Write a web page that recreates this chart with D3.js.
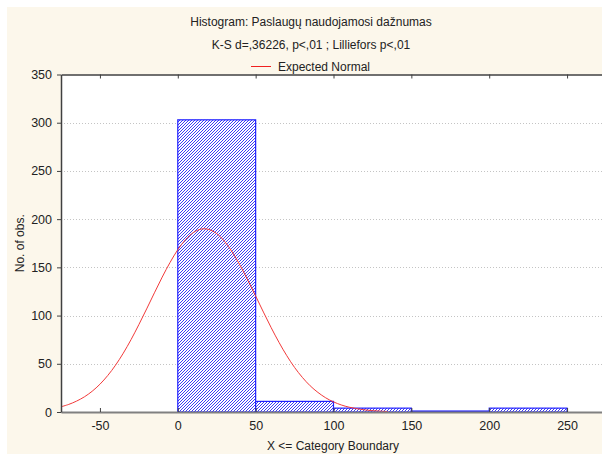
<!DOCTYPE html>
<html><head><meta charset="utf-8">
<script src="https://cdn.jsdelivr.net/npm/d3@7"></script>
<style>html,body{margin:0;padding:0;background:#fff;}svg{display:block;font-family:"Liberation Sans",Arial,sans-serif;}</style>
</head><body>
<svg id="c" width="602" height="454"></svg>
<script>
// ---- data ----
const binStarts = [0, 50, 100, 150, 200];
const binEnds   = [50, 100, 150, 200, 250];
const counts    = [303, 11, 4, 1, 4];
const normalX = [-75,-70,-65,-60,-55,-50,-45,-40,-35,-30,-25,-20,-15,-10,-5,0,5,10,15,20,25,30,35,40,45,50,55,60,65,70,75,80,85,90,95,100,105,110,115,120,125,130,135];
const normalY = [5.4,7.9,11.3,15.7,21.5,28.8,37.8,48.5,61.0,75.1,90.6,106.9,123.6,139.9,155.0,168.3,178.8,186.1,189.7,189.3,185.0,177.0,165.8,152.1,136.7,120.3,103.6,87.4,72.2,58.4,46.2,35.9,27.2,20.3,14.7,10.5,7.3,5.0,3.4,2.2,1.4,0.9,0.5];
const xTicks = [-50, 0, 50, 100, 150, 200, 250];
const yTicks = [0, 50, 100, 150, 200, 250, 300, 350];
const titleLines = ["Histogram: Paslaugų naudojamosi dažnumas", "K-S d=,36226, p<,01 ; Lilliefors p<,01"];
const legendLabel = "Expected Normal";
const xLabel = "X <= Category Boundary";
const yLabel = "No. of obs.";

// ---- layout ----
const svg = d3.select("#c");
const L = 61, T = 74.5, R = 606, B = 412;
const x = d3.scaleLinear().domain([-75, 275]).range([L, R]);
const y = d3.scaleLinear().domain([0, 350]).range([B, T]);
const fmt = d => String(d);

svg.append("rect").attr("x", 7).attr("y", 7).attr("width", 602).attr("height", 454).attr("fill", "#fcf7eb");

const defs = svg.append("defs");
const pat = defs.append("pattern").attr("id", "hatch").attr("patternUnits", "userSpaceOnUse")
  .attr("width", 3).attr("height", 3);
pat.append("rect").attr("width", 3).attr("height", 3).attr("fill", "#ffffff");
[[0, 2], [1, 1], [2, 0]].forEach(([px, py]) =>
  pat.append("rect").attr("x", px).attr("y", py).attr("width", 1).attr("height", 1)
    .attr("fill", "#3c3cf6").attr("shape-rendering", "crispEdges"));
defs.append("clipPath").attr("id", "clip").append("rect").attr("x", L).attr("y", T).attr("width", R - L).attr("height", B - T);

svg.append("rect").attr("x", L).attr("y", T).attr("width", R - L).attr("height", B - T).attr("fill", "#fff");

// gridlines
svg.append("g").selectAll("line").data(yTicks.filter(d => d > 0 && d < 350)).join("line")
  .attr("x1", L).attr("x2", R).attr("y1", d => Math.round(y(d)) + 0.5).attr("y2", d => Math.round(y(d)) + 0.5)
  .attr("stroke", "#c4c4c4").attr("stroke-width", 1).attr("stroke-dasharray", "1,2");

// bars
const bars = counts.map((c, i) => ({ x0: binStarts[i], x1: binEnds[i], c }));
svg.append("g").selectAll("rect").data(bars).join("rect")
  .attr("x", d => x(d.x0)).attr("y", d => y(d.c))
  .attr("width", d => x(d.x1) - x(d.x0)).attr("height", d => B - y(d.c))
  .attr("fill", "url(#hatch)").attr("stroke", "#2020ff").attr("stroke-width", 1.2);

// normal curve
const line = d3.line().x(d => x(d)).y((d, i) => y(normalY[i])).curve(d3.curveCatmullRom);
svg.append("path").attr("d", line(normalX)).attr("fill", "none").attr("stroke", "#f23a3a")
  .attr("stroke-width", 1).attr("clip-path", "url(#clip)");

// axes
const axisG = svg.append("g");
axisG.append("g").attr("transform", `translate(0,${B})`)
  .call(d3.axisBottom(x).tickValues(xTicks).tickFormat(fmt).tickSizeInner(-4).tickSizeOuter(0).tickPadding(9))
  .call(g => g.select(".domain").attr("stroke", "#808080").attr("stroke-width", 2))
  .call(g => g.selectAll(".tick line").attr("stroke", "#404040"))
  .call(g => g.selectAll("text").attr("font-size", 12.5).attr("fill", "#222").attr("font-family", "Liberation Sans, Arial, sans-serif"));
axisG.append("g").attr("transform", `translate(0,${T})`)
  .call(d3.axisTop(x).tickValues(xTicks).tickSizeInner(-4).tickSizeOuter(0).tickFormat(""))
  .call(g => g.select(".domain").attr("stroke", "#404040").attr("stroke-width", 1.5))
  .call(g => g.selectAll(".tick line").attr("stroke", "#404040"));
axisG.append("g").attr("transform", `translate(${L},0)`)
  .call(d3.axisLeft(y).tickValues(yTicks).tickFormat(fmt).tickSizeInner(4).tickSizeOuter(0).tickPadding(5))
  .call(g => g.select(".domain").attr("stroke", "#404040").attr("stroke-width", 1.5))
  .call(g => g.selectAll(".tick line").attr("stroke", "#404040"))
  .call(g => g.selectAll("text").attr("font-size", 12.5).attr("fill", "#222").attr("font-family", "Liberation Sans, Arial, sans-serif"));

// titles
svg.append("g").selectAll("text").data(titleLines).join("text")
  .attr("x", 311).attr("y", (d, i) => 26 + i * 23).attr("text-anchor", "middle")
  .attr("font-size", 12).attr("fill", "#222").text(d => d);

// legend
svg.append("line").attr("x1", 251).attr("x2", 271).attr("y1", 66.5).attr("y2", 66.5).attr("stroke", "#f02020").attr("stroke-width", 1);
svg.append("text").attr("x", 278).attr("y", 71).attr("font-size", 12).attr("fill", "#222").text(legendLabel);

// axis labels
svg.append("text").attr("x", 333).attr("y", 450).attr("text-anchor", "middle").attr("font-size", 12).attr("fill", "#222").text(xLabel);
svg.append("text").attr("transform", `translate(24,${(T + B) / 2}) rotate(-90)`).attr("text-anchor", "middle")
  .attr("font-size", 12).attr("fill", "#222").text(yLabel);
</script>
</body></html>
